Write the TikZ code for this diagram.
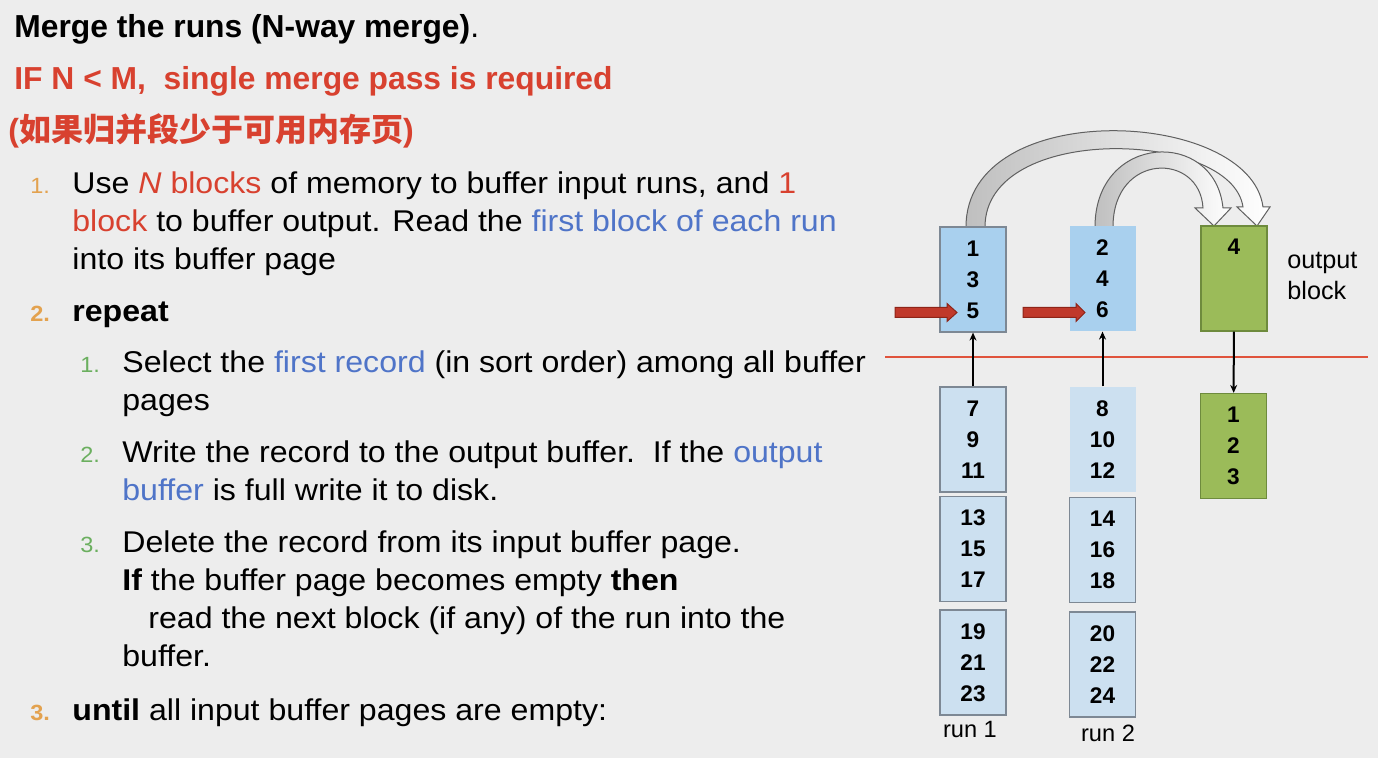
\documentclass[tikz,border=0pt]{standalone}
\usepackage{fontspec}
\setmainfont{Liberation Sans}
\newfontfamily\bodyfont{Liberation Sans}[FakeStretch=1.07]
\newfontfamily\cjk{Noto Sans CJK SC}
\usetikzlibrary{arrows.meta}
\definecolor{bgcol}{HTML}{EDEDED}
\definecolor{hotred}{HTML}{D8412F}
\definecolor{linkblue}{HTML}{4F74C8}
\definecolor{numorange}{HTML}{E3A24F}
\definecolor{numgreen}{HTML}{6BAF5F}
\definecolor{bufblue}{HTML}{A9D0EE}
\definecolor{diskblue}{HTML}{CCE0F0}
\definecolor{boxedge}{HTML}{7D8894}
\definecolor{outgreen}{HTML}{9BBB59}
\definecolor{outedge}{HTML}{6E8B3D}
\definecolor{cutred}{HTML}{E0533C}
\definecolor{ptrred}{HTML}{C0392B}
\definecolor{ptredge}{HTML}{8E2418}
\begin{document}
\begin{tikzpicture}[x=0.5pt,y=-0.5pt,
  txt/.style={anchor=base west,inner sep=0pt,font=\bodyfont\fontsize{15}{18}\selectfont},
  lvlone/.style={anchor=base west,inner sep=0pt,text=numorange,font=\bodyfont\fontsize{11}{13}\selectfont},
  lvltwo/.style={anchor=base west,inner sep=0pt,text=numgreen,font=\bodyfont\fontsize{11}{13}\selectfont},
  page/.style={draw=boxedge,line width=0.6pt,minimum width=33pt,minimum height=52.5pt,inner sep=0pt,
    align=center,font=\fontsize{11.3}{15.5}\selectfont\bfseries},
  inpage/.style={page,fill=bufblue},
  dskpage/.style={page,fill=diskblue},
  outpage/.style={page,draw=outedge,fill=outgreen},
  link/.style={-{Stealth[length=4pt,width=3.5pt]},line width=1pt,black},
  band/.style={draw=gray!75!black,line width=0.5pt,left color=gray!50,right color=white},
  ptr/.style={fill=ptrred,draw=ptredge,line width=0.5pt}]
% background
\fill[bgcol] (0,0) rectangle (1378,758);
\useasboundingbox (0,0) rectangle (1378,758);

% heading
\node[txt,font=\fontsize{15.9}{18}\selectfont\bfseries] (title) at (14,38) {Merge the runs (N-way merge)\mdseries.};
\node[txt,text=hotred,font=\fontsize{15.9}{18}\selectfont\bfseries] (cond) at (14,90) {IF N < M,\ \ single merge pass is required};
\node[txt,text=hotred,font=\fontsize{16}{18}\selectfont\bfseries] (cn) at (8,142) {(\cjk\bfseries 如果归并段少于可用内存页\rmfamily)};

% step 1
\node[lvlone] (n1) at (30,194) {1.};
\node[txt] (l1a) at (72,194) {Use \textcolor{hotred}{\textit{N} blocks} of memory to buffer input runs, and \textcolor{hotred}{1}};
\node[txt] (l1b) at (72,232) {\textcolor{hotred}{block} to buffer output. Read the \textcolor{linkblue}{first block of each run}};
\node[txt] (l1c) at (72,270) {into its buffer page};
% step 2
\node[lvlone,font=\bodyfont\fontsize{11}{13}\selectfont\bfseries] (n2) at (30,322) {2.};
\node[txt,font=\bodyfont\fontsize{15}{18}\selectfont\bfseries] (l2) at (72,322) {repeat};
\node[lvltwo] (m1) at (80,373) {1.};
\node[txt] (s1a) at (122,373) {Select the \textcolor{linkblue}{first record} (in sort order) among all buffer};
\node[txt] (s1b) at (122,411) {pages};
\node[lvltwo] (m2) at (80,463) {2.};
\node[txt] (s2a) at (122,463) {Write the record to the output buffer.\ \ If the \textcolor{linkblue}{output}};
\node[txt] (s2b) at (122,501) {\textcolor{linkblue}{buffer} is full write it to disk.};
\node[lvltwo] (m3) at (80,553) {3.};
\node[txt] (s3a) at (122,553) {Delete the record from its input buffer page.};
\node[txt] (s3b) at (122,591) {\textbf{If} the buffer page becomes empty \textbf{then}};
\node[txt] (s3c) at (148,629) {read the next block (if any) of the run into the};
\node[txt] (s3d) at (122,667) {buffer.};
% step 3
\node[lvlone,font=\bodyfont\fontsize{11}{13}\selectfont\bfseries] (n3) at (30,721) {3.};
\node[txt] (l3) at (72,721) {\textbf{until} all input buffer pages are empty:};

% curved transfer arrows into the output block
\path[band] (966,227) .. controls (966,96) and (1250,108) .. (1263,207)
  -- (1270,207) -- (1257,226) -- (1237,207) -- (1243,207)
  .. controls (1232,130) and (985,122) .. (985,227) -- cycle;
\path[band] (1095,227) .. controls (1095,133) and (1215,128) .. (1223,208)
  -- (1231,208) -- (1214,226) -- (1195,208) -- (1203,208)
  .. controls (1200,152) and (1113,152) .. (1113,227) -- cycle;

% buffer pages in memory
\node[inpage] (bufA) at (973,279.5) {1\\3\\5};
\node[inpage,draw=none] (bufB) at (1102.5,278.5) {2\\4\\6};
\node[outpage] (outbuf) at (1234,278.5) {};
\node[font=\fontsize{11.3}{13}\selectfont\bfseries,inner sep=0pt] (four) at (1234,247) {4};
\node[anchor=west,align=left,inner sep=0pt,font=\fontsize{12.6}{15.5}\selectfont] (outlbl) at (1287,276) {output\\block};

% current-record pointers
\path[ptr] (895,307.5) -- (947,307.5) -- (947,303.5) -- (957,312.5) -- (947,321.5) -- (947,317.5) -- (895,317.5) -- cycle;
\path[ptr] (1023,307.5) -- (1076,307.5) -- (1076,303.5) -- (1085,312.5) -- (1076,321.5) -- (1076,317.5) -- (1023,317.5) -- cycle;

% memory / disk boundary
\draw[cutred,line width=1.4pt] (885,357) -- (1368,357);

% runs on disk
\node[dskpage] (r1a) at (973,439.5) {7\\9\\11};
\node[dskpage] (r1b) at (973,549) {13\\15\\17};
\node[dskpage] (r1c) at (973,662.5) {19\\21\\23};
\node[dskpage,draw=none] (r2a) at (1102.5,439.5) {8\\10\\12};
\node[dskpage] (r2b) at (1102.5,550) {14\\16\\18};
\node[dskpage] (r2c) at (1102.5,664.5) {20\\22\\24};
\node[outpage] (outdisk) at (1233.5,446) {1\\2\\3};
\node[inner sep=0pt,font=\fontsize{11.8}{14}\selectfont] (run1) at (970,729) {run 1};
\node[inner sep=0pt,font=\fontsize{11.8}{14}\selectfont] (run2) at (1108,733) {run 2};

% block reads and writes
\draw[link] (r1a) -- (bufA);
\draw[link] (r2a) -- (bufB);
\draw[link] (outbuf) -- (outdisk);
\end{tikzpicture}
\end{document}
